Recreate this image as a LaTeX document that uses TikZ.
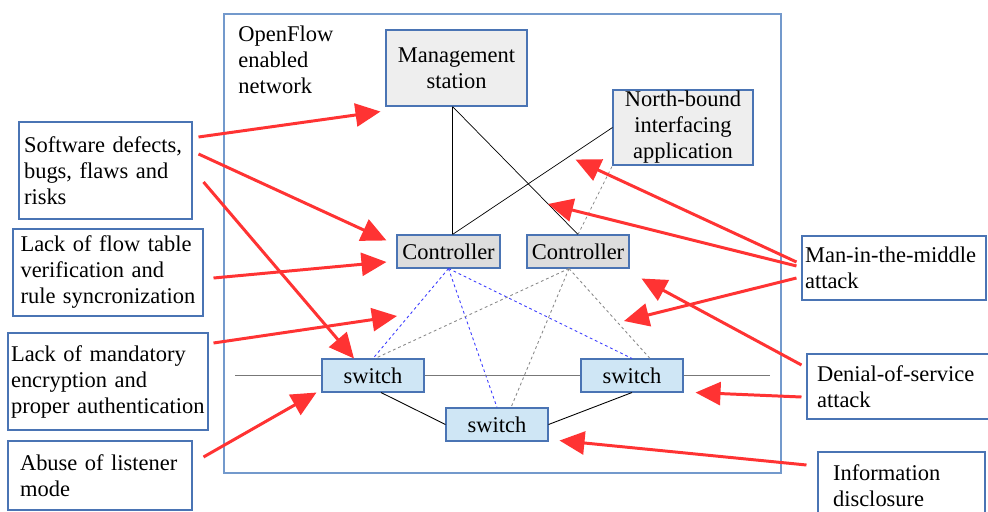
\documentclass[tikz,border=0pt]{standalone}
\usepackage{fontspec}
\setmainfont{Liberation Serif}
\usetikzlibrary{arrows.meta}
\definecolor{edgeblue}{HTML}{4A74B4}
\definecolor{frameblue}{HTML}{7399CC}
\definecolor{attackred}{HTML}{FF3333}
\definecolor{panelgray}{HTML}{EEEEEE}
\definecolor{ctrlgray}{HTML}{DDDDDD}
\definecolor{switchblue}{HTML}{CFE6F5}
\definecolor{linkblue}{HTML}{3B3BFF}
\definecolor{linkgray}{HTML}{8A8A8A}
\definecolor{busgray}{HTML}{777777}

\begin{document}
\begin{tikzpicture}[x=0.02cm,y=-0.02cm,
  every node/.style={font=\fontsize{12.8}{14.8}\selectfont},
  unit/.style={draw=edgeblue,line width=0.6pt,inner sep=0pt,align=center},
  switchbox/.style={unit,fill=switchblue,minimum width=2.04cm,minimum height=0.66cm},
  threat/.style={draw=edgeblue,line width=0.6pt,inner ysep=0pt,align=left},
  attack/.style={-{Triangle[length=0.5cm,width=0.46cm]},line width=1.7pt,attackred},
  ctrllink/.style={dash pattern=on 1.6pt off 1.6pt,line width=0.5pt}]
\useasboundingbox (0,0) rectangle (988,511);
\clip (0,0) rectangle (988,511);
% network frame
\draw[frameblue,line width=0.6pt] (224,14) rectangle (781,473);
\node[anchor=north west,align=left,inner sep=0pt] (netname) at (238,26) {OpenFlow\\enabled\\network};
% control plane
\node[unit,fill=panelgray,minimum width=2.82cm,minimum height=1.52cm] (mgmt) at (456.5,68) {Management\\station};
\node[unit,fill=panelgray,minimum width=2.8cm,minimum height=1.5cm] (nbapp) at (683,127.5) {North-bound\\interfacing\\application};
\node[unit,fill=ctrlgray,minimum width=2.06cm,minimum height=0.66cm] (ctrlA) at (448.5,251.5) {Controller};
\node[unit,fill=ctrlgray,minimum width=2.04cm,minimum height=0.66cm] (ctrlB) at (578,251.5) {Controller};
% data plane
\node[switchbox] (swL) at (373,375.5) {switch};
\node[switchbox] (swR) at (632,375.5) {switch};
\node[switchbox] (swB) at (497,424.5) {switch};
\coordinate (busW) at (235,375.5);
\coordinate (busE) at (770,375.5);
% threats
\node[threat,text width=3.26cm,inner xsep=0.1cm,minimum height=1.94cm] (bugs) at (105.5,170.5) {Software defects,\\bugs, flaws and\\risks};
\node[threat,text width=3.5cm,inner xsep=0.15cm,minimum height=1.74cm] (flowtab) at (108,272.5) {Lack of flow table\\verification and\\rule syncronization};
\node[threat,text width=3.88cm,inner xsep=0.06cm,minimum height=1.94cm] (noenc) at (108,381.5) {Lack of mandatory\\encryption and\\proper authentication};
\node[threat,text width=3.2cm,inner xsep=0.24cm,minimum height=1.38cm] (listen) at (100,475.5) {Abuse of listener\\mode};
\node[threat,text width=3.56cm,inner xsep=0.06cm,minimum height=1.28cm] (mitm) at (894,268) {Man-in-the-middle\\attack};
\node[threat,text width=3.36cm,inner xsep=0.2cm,minimum height=1.3cm] (dos) at (901,386.5) {Denial-of-service\\attack};
\node[threat,text width=2.74cm,inner xsep=0.3cm,minimum height=1.36cm] (leak) at (901.5,486) {Information\\disclosure};
% links
\coordinate (hub) at ([xshift=0.08cm]ctrlA.north);
\draw (hub |- mgmt.south) -- (hub);
\draw (hub |- mgmt.south) -- (ctrlB.north);
\draw (nbapp.west) -- (hub);
\draw[linkgray,ctrllink] (ctrlB.north) -- (nbapp.south west);
\foreach \s in {swL,swB,swR}{\draw[linkblue,ctrllink] (ctrlA.south) -- (\s.north);}
\foreach \s/\dx in {swL/0.04cm,swB/0.28cm,swR/0.36cm}{\draw[linkgray,ctrllink] ([xshift=-0.18cm]ctrlB.south) -- ([xshift=\dx]\s.north);}
\draw[busgray,line width=1.1pt] (busW) -- (swL.west) (swL.east) -- (swR.west) (swR.east) -- (busE);
\draw[line width=0.5pt] ([xshift=0.16cm]swL.south) -- (swB.west);
\draw[line width=0.5pt] (swB.east) -- (swR.south);
% attacks
\coordinate (gapA) at (397,316);
\coordinate (gapB) at (624,321);
\coordinate (gapC) at (548,204);
\draw[attack] ([shift={(6,-33.5)}]bugs.east) -- ([shift={(-5,5)}]mgmt.south west);
\draw[attack] ([shift={(6,-16.5)}]bugs.east) -- ([shift={(-10,6)}]ctrlA.north west);
\draw[attack] ([shift={(11,11.5)}]bugs.east) -- ([shift={(-19,0)}]swL.north);
\draw[attack] ([shift={(10,5.5)}]flowtab.east) -- ([shift={(-10,10.5)}]ctrlA.west);
\draw[attack] ([shift={(5,-38.5)}]noenc.east) -- (gapA);
\draw[attack] ([shift={(11,-18.5)}]listen.east) -- ([shift={(-5,0)}]swL.south west);
\draw[attack] ([shift={(-5,-6)}]mitm.west) -- ([shift={(-37,-6)}]nbapp.south west);
\draw[attack] ([shift={(-5,-2)}]mitm.west) -- (gapC);
\draw[attack] ([shift={(-5,10)}]mitm.west) -- (gapB);
\draw[attack] ([shift={(-5,-21.5)}]dos.west) -- ([shift={(12,10)}]ctrlB.south east);
\draw[attack] ([shift={(-5,10.5)}]dos.west) -- ([shift={(12,0)}]swR.south east);
\draw[attack] ([shift={(-11,-21)}]leak.west) -- ([shift={(11,-1)}]swB.south east);
\end{tikzpicture}
\end{document}
